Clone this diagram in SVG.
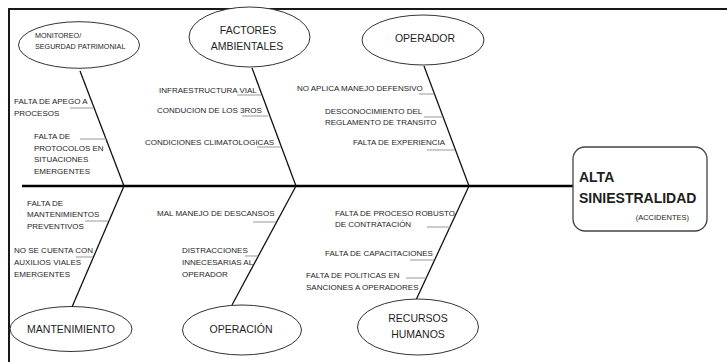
<svg xmlns="http://www.w3.org/2000/svg" width="727" height="362" viewBox="0 0 727 362">
<style>
text{font-family:"Liberation Sans",Arial,sans-serif;fill:#1e1e1e}
.r{font-size:8px}
.l{font-size:10.5px;text-anchor:middle}
.m{font-size:7.2px}
.e{fill:#fff;stroke:#333;stroke-width:1}
.b{stroke:#111;stroke-width:1.3;fill:none}
.g{stroke:#999;stroke-width:1;fill:none}
</style>
<rect x="9" y="9" width="740" height="380" fill="#fff" stroke="#000" stroke-width="1.8"/>
<g id="connectors">
<line x1="22" y1="186" x2="573" y2="186" stroke="#000" stroke-width="2.5"/>
<line class="b" x1="80" y1="71" x2="124" y2="186"/>
<line class="b" x1="252" y1="68" x2="296" y2="186"/>
<line class="b" x1="424" y1="66" x2="469" y2="186"/>
<line class="b" x1="124" y1="186" x2="72" y2="307"/>
<line class="b" x1="296" y1="186" x2="232" y2="305"/>
<line class="b" x1="469" y1="186" x2="416" y2="300"/>
<line class="g" x1="70" y1="108" x2="94" y2="108"/>
<line class="g" x1="80" y1="139" x2="106" y2="139"/>
<line class="g" x1="237" y1="95" x2="261" y2="95"/>
<line class="g" x1="242" y1="116" x2="268" y2="116"/>
<line class="g" x1="257" y1="147" x2="281" y2="147"/>
<line class="g" x1="419" y1="94" x2="434" y2="94"/>
<line class="g" x1="424" y1="117" x2="443" y2="117"/>
<line class="g" x1="427" y1="150" x2="455" y2="150"/>
<line class="g" x1="85" y1="221" x2="108" y2="221"/>
<line class="g" x1="76" y1="257" x2="93" y2="257"/>
<line class="g" x1="253" y1="222" x2="276" y2="222"/>
<line class="g" x1="245" y1="256" x2="258" y2="256"/>
<line class="g" x1="427" y1="227" x2="450" y2="227"/>
<line class="g" x1="410" y1="260" x2="434" y2="260"/>
<line class="g" x1="406" y1="278" x2="426" y2="278"/>
</g>
<g id="monitoreo">
<ellipse class="e" cx="79" cy="45" rx="60.5" ry="23.3"/>
<text class="m" x="35" y="37.6">MONITOREO/</text>
<text class="m" x="35" y="49.3">SEGURDAD PATRIMONIAL</text>
<text class="r" x="14" y="104">FALTA DE APEGO A</text>
<text class="r" x="14" y="116">PROCESOS</text>
<text class="r" x="34" y="139">FALTA DE</text>
<text class="r" x="34" y="150.5">PROTOCOLOS EN</text>
<text class="r" x="34" y="162">SITUACIONES</text>
<text class="r" x="34" y="174">EMERGENTES</text>
</g>
<g id="factores">
<ellipse class="e" cx="249.5" cy="37" rx="60.5" ry="30"/>
<text class="l" x="248" y="33.8">FACTORES</text>
<text class="l" x="247" y="49.8">AMBIENTALES</text>
<text class="r" x="159" y="93">INFRAESTRUCTURA VIAL</text>
<text class="r" x="157" y="113">CONDUCION DE LOS 3ROS</text>
<text class="r" x="145" y="145">CONDICIONES CLIMATOLOGICAS</text>
</g>
<g id="operador">
<ellipse class="e" cx="423" cy="40" rx="61" ry="25"/>
<text class="l" x="425" y="41.5">OPERADOR</text>
<text class="r" x="297" y="91">NO APLICA MANEJO DEFENSIVO</text>
<text class="r" x="325" y="113.6">DESCONOCIMIENTO DEL</text>
<text class="r" x="325" y="125.2">REGLAMENTO DE TRANSITO</text>
<text class="r" x="353" y="144.6">FALTA DE EXPERIENCIA</text>
</g>
<g id="mantenimiento">
<ellipse class="e" cx="71" cy="329" rx="61" ry="22.5"/>
<text class="l" x="71" y="333" font-size="11.2">MANTENIMIENTO</text>
<text class="r" x="27" y="205.6">FALTA DE</text>
<text class="r" x="27" y="217.2">MANTENIMIENTOS</text>
<text class="r" x="27" y="228.9">PREVENTIVOS</text>
<text class="r" x="14" y="252.9">NO SE CUENTA CON</text>
<text class="r" x="14" y="264.6">AUXILIOS VIALES</text>
<text class="r" x="14" y="277.2">EMERGENTES</text>
</g>
<g id="operacion">
<ellipse class="e" cx="242" cy="330" rx="59.5" ry="25"/>
<text class="l" x="241" y="333">OPERACIÓN</text>
<text class="r" x="157" y="216.2">MAL MANEJO DE DESCANSOS</text>
<text class="r" x="182" y="252.9">DISTRACCIONES</text>
<text class="r" x="182" y="264.6">INNECESARIAS AL</text>
<text class="r" x="182" y="277.2">OPERADOR</text>
</g>
<g id="recursos">
<ellipse class="e" cx="418" cy="327" rx="60.5" ry="28"/>
<text class="l" x="418" y="322">RECURSOS</text>
<text class="l" x="418" y="338">HUMANOS</text>
<text class="r" x="335" y="215.6">FALTA DE PROCESO ROBUSTO</text>
<text class="r" x="335" y="227.2">DE CONTRATACIÓN</text>
<text class="r" x="325" y="255.6">FALTA DE CAPACITACIONES</text>
<text class="r" x="306" y="277.9">FALTA DE POLITICAS EN</text>
<text class="r" x="306" y="290.2">SANCIONES A OPERADORES</text>
</g>
<g id="efecto">
<rect x="573" y="147" width="134" height="84" rx="12" fill="#fff" stroke="#444" stroke-width="1.3"/>
<text x="579" y="182" font-size="14" font-weight="bold">ALTA</text>
<text x="579" y="203" font-size="14" font-weight="bold">SINIESTRALIDAD</text>
<text x="689" y="220" font-size="7.5" text-anchor="end">(ACCIDENTES)</text>
</g>
</svg>
